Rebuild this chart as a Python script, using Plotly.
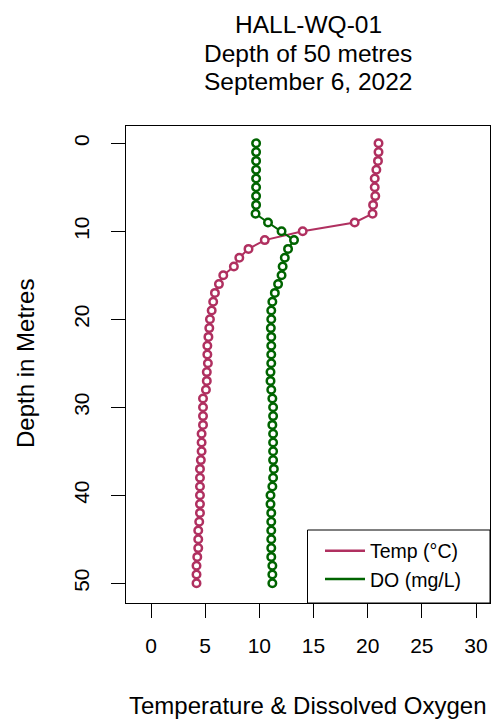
import plotly.graph_objects as go

depth = list(range(0, 51))
temp_c = [21.0, 21.0, 20.95, 20.8, 20.65, 20.65, 20.7, 20.5, 20.45, 18.8,
          14.0, 10.5, 9.0, 8.15, 7.65, 6.67, 6.27, 5.9, 5.74, 5.6,
          5.44, 5.38, 5.3, 5.2, 5.2, 5.25, 5.15, 5.15, 5.07, 4.8,
          4.8, 4.8, 4.8, 4.67, 4.67, 4.67, 4.6, 4.52, 4.52, 4.52,
          4.52, 4.52, 4.52, 4.45, 4.36, 4.36, 4.36, 4.27, 4.2, 4.2, 4.2]
do_mgl = [9.7, 9.7, 9.7, 9.7, 9.7, 9.7, 9.7, 9.7, 9.65, 10.8,
          12.05, 13.2, 12.65, 12.35, 12.15, 12.05, 11.73, 11.43, 11.2, 11.1,
          11.1, 11.06, 11.1, 11.1, 11.1, 11.1, 11.03, 11.03, 11.1, 11.2,
          11.27, 11.27, 11.2, 11.27, 11.27, 11.27, 11.27, 11.34, 11.27, 11.2,
          11.03, 11.03, 11.1, 11.1, 11.1, 11.1, 11.1, 11.1, 11.2, 11.2, 11.2]

x_ticks = [0, 5, 10, 15, 20, 25, 30]
y_ticks = [0, 10, 20, 30, 40, 50]
title_lines = ["HALL-WQ-01", "Depth of 50 metres", "September 6, 2022"]
series_names = ["Temp (°C)", "DO (mg/L)"]
TEMP_COLOR = "#B03060"
DO_COLOR = "#006400"
FONT = "Liberation Sans, Arial, sans-serif"

fig = go.Figure()
for vals, name, col in [(temp_c, series_names[0], TEMP_COLOR), (do_mgl, series_names[1], DO_COLOR)]:
    fig.add_trace(go.Scatter(
        x=vals, y=depth, mode="lines+markers", name=name, showlegend=False,
        line=dict(color=col, width=2),
        marker=dict(symbol="circle", size=7.5, color="white", line=dict(color=col, width=2.5)),
    ))
    fig.add_trace(go.Scatter(
        x=[None], y=[None], mode="lines", name=name, showlegend=True,
        line=dict(color=col, width=2.5),
    ))

W, H = 493, 723
L, R, T = 126, 3, 126
B = H - 603
pw, ph = W - L - R, H - T - B

def py(p):
    return (H - B - p) / ph

def px(p):
    return (p - L) / pw

annotations = []
for i, line in enumerate(title_lines):
    annotations.append(dict(text=line, xref="paper", yref="paper", x=px(308), y=py(24 + 29 * i),
                            xanchor="center", yanchor="middle", showarrow=False,
                            font=dict(size=24.5, color="black", family=FONT)))
annotations.append(dict(text="Temperature & Dissolved Oxygen", xref="paper", yref="paper",
                        x=px(308), y=py(705), xanchor="center", yanchor="middle", showarrow=False,
                        font=dict(size=24, color="black", family=FONT)))
annotations.append(dict(text="Depth in Metres", xref="paper", yref="paper", textangle=-90,
                        x=px(25), y=py(364), xanchor="center", yanchor="middle", showarrow=False,
                        font=dict(size=24, color="black", family=FONT)))

fig.update_layout(
    width=W, height=H,
    margin=dict(l=L, r=R, t=T, b=B),
    plot_bgcolor="white", paper_bgcolor="white",
    font=dict(family=FONT, color="black"),
    annotations=annotations,
    shapes=[dict(type="rect", xref="paper", yref="paper", x0=px(307.5), x1=1, y0=0, y1=py(530),
                 line=dict(color="black", width=1), fillcolor="rgba(0,0,0,0)")],
    legend=dict(x=px(320), y=py(565), xanchor="left", yanchor="middle",
                bgcolor="rgba(0,0,0,0)", borderwidth=0, itemwidth=40,
                font=dict(size=19.5, color="black", family=FONT), tracegroupgap=0),
    xaxis=dict(range=[-2.308, 31.29], tickvals=x_ticks, ticktext=[str(v) for v in x_ticks],
               showgrid=False, zeroline=False, showline=True, mirror=True, linecolor="black", linewidth=1,
               ticks="outside", ticklen=14, tickcolor="black", tickwidth=1,
               ticklabelstandoff=10, tickfont=dict(size=21, color="black", family=FONT)),
    yaxis=dict(range=[52.24, -1.966], tickvals=y_ticks, ticktext=[str(v) for v in y_ticks],
               showgrid=False, zeroline=False, showline=True, mirror=True, linecolor="black", linewidth=1,
               ticks="outside", ticklen=14, tickcolor="black", tickwidth=1, tickangle=-90,
               ticklabelstandoff=14, tickfont=dict(size=21, color="black", family=FONT)),
)

fig.write_html("out.html", config={"displayModeBar": False},
               post_script="document.body.style.margin='0';document.body.style.overflow='hidden';")
